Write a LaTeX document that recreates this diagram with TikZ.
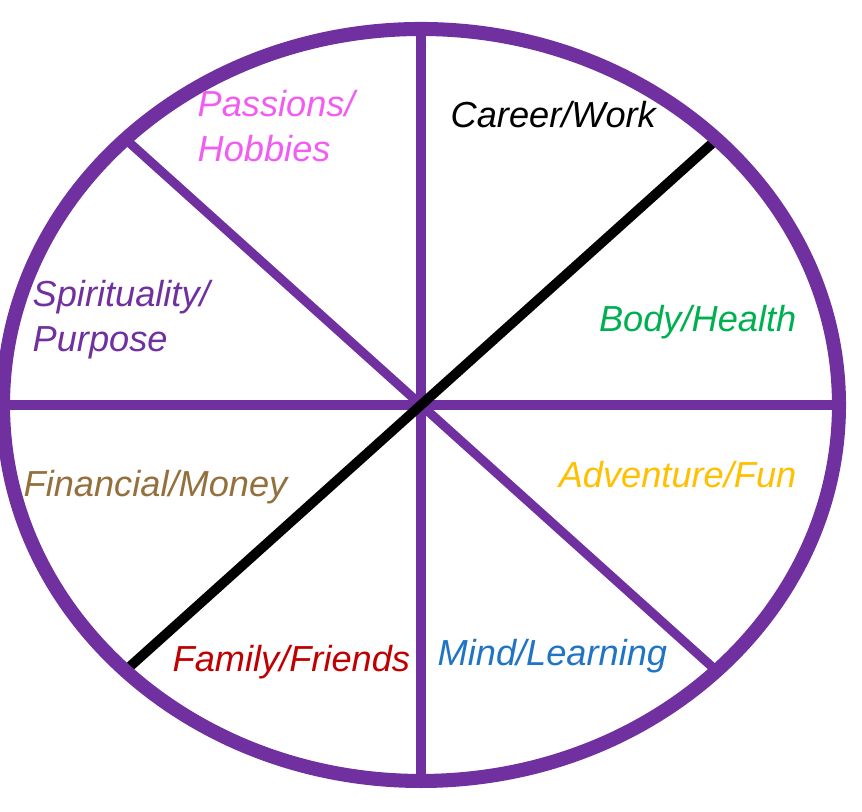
\documentclass[tikz,border=0pt]{standalone}
\usepackage{fontspec}
\setmainfont{Liberation Sans}
\usepackage{tikz}
\usepackage{xcolor}
\definecolor{wheelpurple}{HTML}{7030A0}
\definecolor{passionpink}{HTML}{F25CF2}
\definecolor{healthgreen}{HTML}{00B050}
\definecolor{moneybrown}{HTML}{94703C}
\definecolor{fungold}{HTML}{FFC000}
\definecolor{familyred}{HTML}{C00000}
\definecolor{mindblue}{HTML}{1F75C4}

\begin{document}
\begin{tikzpicture}[
  ring/.style={draw=wheelpurple, line width=4pt},
  spoke/.style={draw=wheelpurple, line width=2.6pt},
  lbl/.style={font=\fontsize{10.3}{12.8}\selectfont\itshape, inner sep=0pt, align=left}]
\useasboundingbox (0,0) rectangle (8.62,8.12);

\begin{scope}[shift={(4.21,4.07)}]
% Spokes of the wheel
\foreach \a in {0,90,135}
  \draw[spoke] (\a:4.18 and 3.76) -- (\a+180:4.18 and 3.76);

% Black divider
\draw[line width=2.8pt] (225:4.14 and 3.72) -- (45:4.14 and 3.72);

% Outer rim
\draw[ring] (0,0) ellipse [x radius=4.18, y radius=3.76];
\end{scope}

% Area labels
\node[lbl, text=passionpink, anchor=base west] (passions) at (1.97,6.50) {Passions/\\Hobbies};
\node[lbl, anchor=base west] (career) at (4.50,6.84) {Career/Work};
\node[lbl, text=wheelpurple, anchor=base west] (spirit) at (0.32,4.60) {Spirituality/\\Purpose};
\node[lbl, text=healthgreen, anchor=base east] (body) at (7.97,4.80) {Body/Health};
\node[lbl, text=moneybrown, anchor=base west] (money) at (0.23,3.15) {Financial/Money};
\node[lbl, text=fungold, anchor=base east] (fun) at (7.97,3.24) {Adventure/Fun};
\node[lbl, text=familyred, anchor=base west] (family) at (1.72,1.40) {Family/Friends};
\node[lbl, text=mindblue, anchor=base west] (mind) at (4.37,1.46) {Mind/Learning};
\end{tikzpicture}
\end{document}
